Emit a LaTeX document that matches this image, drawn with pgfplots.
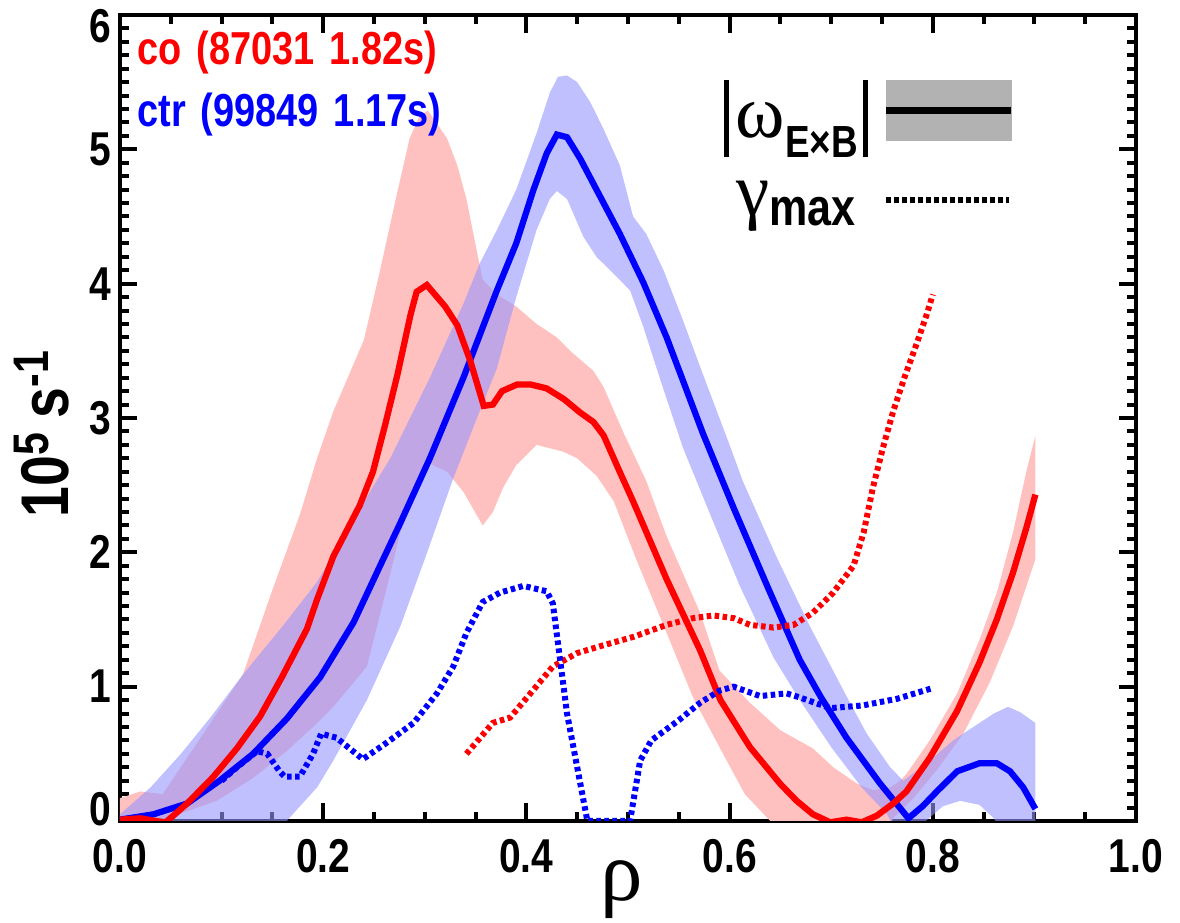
\documentclass[border=0pt]{standalone}
\usepackage{fontspec}
\setmainfont{Liberation Sans}
\newfontfamily\nar{Liberation Sans}[FakeStretch=0.82]
\newfontfamily\grk{Liberation Serif}
\usepackage{pgfplots}
\usepackage{pgfplotstable}
\pgfplotsset{compat=1.18}
\usepgfplotslibrary{fillbetween}

\definecolor{cored}{RGB}{255,0,0}
\definecolor{ctrblue}{RGB}{0,0,255}
\definecolor{coband}{RGB}{255,192,192}
\definecolor{ctrband}{RGB}{150,150,255}
\definecolor{legbox}{RGB}{178,178,178}

% co (87031 1.82s): |w_ExB| and its band
\pgfplotstableread{
x y
0.000 0.01
0.020 0.02
0.035 0.00
0.045 -0.01
0.066 0.13
0.092 0.33
0.115 0.54
0.138 0.78
0.160 1.08
0.184 1.43
0.194 1.65
0.210 1.97
0.236 2.35
0.249 2.60
0.261 2.95
0.273 3.32
0.286 3.77
0.292 3.94
0.302 3.99
0.320 3.83
0.332 3.69
0.345 3.42
0.358 3.09
0.367 3.10
0.376 3.20
0.391 3.25
0.404 3.25
0.420 3.22
0.437 3.14
0.453 3.04
0.466 2.97
0.476 2.87
0.493 2.58
0.505 2.38
0.538 1.80
0.571 1.27
0.591 0.90
0.620 0.55
0.650 0.275
0.666 0.15
0.682 0.05
0.699 -0.01
0.715 0.01
0.730 -0.01
0.745 0.04
0.761 0.13
0.774 0.22
0.797 0.47
0.824 0.82
0.846 1.18
0.863 1.50
0.879 1.85
0.892 2.18
0.901 2.43
}\coline

\pgfplotstableread{
x y
0.000 0.17
0.020 0.22
0.042 0.20
0.082 0.65
0.121 1.09
0.150 1.72
0.177 2.28
0.194 2.70
0.210 3.05
0.240 3.58
0.256 4.10
0.272 4.65
0.285 5.08
0.295 5.25
0.303 5.29
0.322 5.08
0.332 4.88
0.341 4.63
0.351 4.25
0.357 4.03
0.371 3.92
0.390 3.83
0.410 3.70
0.430 3.60
0.443 3.50
0.466 3.35
0.476 3.23
0.495 2.90
0.518 2.53
0.538 2.12
0.571 1.55
0.590 1.12
0.620 0.88
0.650 0.675
0.682 0.54
0.702 0.40
0.725 0.28
0.741 0.23
0.758 0.25
0.768 0.30
0.774 0.35
0.797 0.60
0.824 0.95
0.846 1.35
0.863 1.70
0.879 2.15
0.892 2.60
0.901 2.87
}\coup

\pgfplotstableread{
x y
0.000 -0.10
0.050 0.03
0.095 0.15
0.131 0.32
0.164 0.52
0.190 0.70
0.210 0.85
0.243 1.15
0.263 1.75
0.276 2.15
0.285 2.33
0.305 2.66
0.322 2.60
0.338 2.45
0.357 2.20
0.367 2.30
0.377 2.48
0.390 2.65
0.410 2.80
0.436 2.75
0.450 2.70
0.469 2.57
0.486 2.38
0.508 1.95
0.538 1.40
0.564 0.92
0.590 0.55
0.615 0.20
0.640 0.00
0.660 -0.10
0.750 -0.10
0.761 0.02
0.781 0.17
0.804 0.38
0.830 0.65
0.856 1.03
0.879 1.45
0.901 1.95
}\colo

% ctr (99849 1.17s): |w_ExB| and its band
\pgfplotstableread{
x y
0.000 0.01
0.033 0.05
0.066 0.13
0.098 0.30
0.131 0.50
0.164 0.76
0.197 1.07
0.230 1.48
0.256 1.90
0.276 2.22
0.305 2.70
0.338 3.30
0.371 3.95
0.390 4.30
0.407 4.70
0.420 4.97
0.430 5.11
0.440 5.09
0.453 4.93
0.469 4.70
0.492 4.37
0.515 4.01
0.538 3.60
0.554 3.28
0.574 2.88
0.604 2.33
0.637 1.75
0.669 1.20
0.690 0.92
0.715 0.62
0.748 0.28
0.776 0.02
0.790 0.11
0.804 0.22
0.824 0.37
0.846 0.43
0.863 0.43
0.876 0.37
0.889 0.25
0.901 0.09
}\ctrline

\pgfplotstableread{
x y
0.000 0.05
0.030 0.25
0.060 0.50
0.090 0.78
0.121 1.09
0.160 1.45
0.194 1.78
0.230 2.25
0.266 2.70
0.305 3.30
0.338 3.85
0.354 4.15
0.371 4.40
0.390 4.70
0.410 5.12
0.423 5.42
0.431 5.54
0.440 5.55
0.450 5.50
0.463 5.35
0.476 5.15
0.492 4.88
0.505 4.50
0.518 4.37
0.535 4.10
0.554 3.73
0.574 3.32
0.600 2.80
0.613 2.53
0.646 1.97
0.679 1.45
0.715 0.93
0.735 0.65
0.758 0.40
0.771 0.30
0.797 0.45
0.820 0.60
0.840 0.70
0.860 0.80
0.874 0.85
0.886 0.81
0.901 0.73
}\ctrup

\pgfplotstableread{
x y
0.000 -0.10
0.164 0.00
0.194 0.25
0.210 0.45
0.243 0.90
0.276 1.45
0.300 1.95
0.328 2.55
0.354 3.05
0.371 3.37
0.390 3.90
0.410 4.40
0.423 4.63
0.430 4.69
0.440 4.63
0.456 4.35
0.469 4.20
0.489 4.05
0.502 3.95
0.515 3.68
0.532 3.28
0.554 2.78
0.581 2.28
0.610 1.75
0.643 1.22
0.669 0.90
0.700 0.55
0.730 0.25
0.755 0.05
0.765 -0.10
0.790 -0.02
0.810 0.11
0.827 0.15
0.846 0.12
0.860 0.02
0.870 -0.10
0.901 -0.10
}\ctrlo

% gamma_max
\pgfplotstableread{
x y
0.341 0.50
0.367 0.73
0.384 0.77
0.404 0.95
0.426 1.15
0.450 1.25
0.472 1.30
0.505 1.37
0.538 1.46
0.564 1.51
0.584 1.53
0.604 1.51
0.620 1.46
0.643 1.44
0.663 1.46
0.682 1.55
0.702 1.70
0.722 1.90
0.732 2.15
0.741 2.48
0.751 2.78
0.761 3.05
0.772 3.30
0.784 3.55
0.794 3.77
0.800 3.92
}\cogam

\pgfplotstableread{
x y
0.100 0.30
0.115 0.40
0.135 0.52
0.145 0.50
0.157 0.37
0.162 0.33
0.177 0.33
0.190 0.50
0.198 0.65
0.213 0.62
0.239 0.46
0.262 0.58
0.289 0.73
0.312 0.95
0.328 1.15
0.341 1.40
0.357 1.63
0.374 1.70
0.397 1.75
0.420 1.71
0.426 1.62
0.440 0.80
0.460 0.00
0.502 0.00
0.512 0.45
0.523 0.60
0.550 0.75
0.571 0.88
0.590 0.97
0.604 1.00
0.630 0.93
0.656 0.95
0.669 0.92
0.699 0.84
0.731 0.86
0.765 0.91
0.800 0.99
}\ctrgam

\tikzset{gamline/.style={line width=2.4pt, dash pattern=on 1.8pt off 1.4pt}}

\begin{document}
\begin{tikzpicture}
\begin{axis}[
    scale only axis,
    width=406.4pt, height=322.4pt,
    xmin=0, xmax=1, ymin=0, ymax=6,
    xtick={0,0.2,0.4,0.6,0.8,1.0},
    ytick={0,1,2,3,4,5,6},
    yticklabels={\raisebox{4.8pt}[\height][0pt]{0},1,2,3,4,5,\raisebox{-4.4pt}[\height][0pt]{6}},
    minor x tick num=3,
    minor y tick num=9,
    tick align=inside,
    xtick pos=both, ytick pos=both,
    major tick length=7pt,
    minor tick length=3.5pt,
    tick style={black, line width=1.6pt},
    axis line style={line width=1.6pt},
    /pgf/number format/assume math mode=true,
    ticklabel style={font=\nar\bfseries\fontsize{19}{19}\selectfont},
    xticklabel style={yshift=-4pt, /pgf/number format/.cd, fixed, fixed zerofill, precision=1},
    xlabel={\grk ρ},
    xlabel style={font=\fontsize{34}{34}\selectfont, at={(axis description cs:0.494,-0.085)}, anchor=center},
    ylabel={\nar\bfseries 10\raisebox{8pt}{\fontsize{20}{20}\selectfont 5}\hspace{6pt}s\raisebox{8pt}{\fontsize{20}{20}\selectfont -1}},
    ylabel style={font=\fontsize{27}{27}\selectfont, at={(axis description cs:-0.077,0.48)}, anchor=center},
    legend plot pos=right,
    legend cell align=center,
    legend style={draw=none, fill=none, inner sep=0pt, at={(axis cs:0.881,5.52)}, anchor=north east,
        row sep=16pt, column sep=6pt, nodes={inner sep=0pt}},
]
\addplot[name path=coU, draw=none, forget plot] table {\coup};
\addplot[name path=coL, draw=none, forget plot] table {\colo};
\addplot[coband, forget plot] fill between[of=coU and coL];
\addplot[name path=ctrU, draw=none, forget plot] table {\ctrup};
\addplot[name path=ctrL, draw=none, forget plot] table {\ctrlo};
\addplot[ctrband, fill opacity=0.6, forget plot] fill between[of=ctrU and ctrL];

\addplot[ctrblue, line width=2.5pt, forget plot] table {\ctrline};
\addplot[cored, line width=2.5pt, forget plot] table {\coline};
\addplot[cored, gamline, forget plot] table {\cogam};
\addplot[ctrblue, gamline, forget plot] table {\ctrgam};

\addlegendimage{legend image code/.code={
    \fill[legbox] (0pt,-12pt) rectangle (50pt,12pt);
    \draw[black, line width=2.6pt] (0pt,0pt) -- (50pt,0pt);}}
\addlegendentry{\rule[-8pt]{2pt}{31pt}\hspace{2.8pt}{\grk\fontsize{30}{30}\selectfont ω}\raisebox{-8pt}{\nar\bfseries\fontsize{18}{18}\selectfont E×B}\hspace{2pt}\rule[-8pt]{2pt}{31pt}}
\addlegendimage{legend image code/.code={
    \draw[black, gamline] (0pt,0pt) -- (49pt,0pt);}}
\addlegendentry{{\grk\fontsize{30}{30}\selectfont γ}\raisebox{-4pt}{\nar\bfseries\fontsize{21}{21}\selectfont max}}

\node[anchor=base west, inner sep=0pt, text=cored, font=\nar\bfseries\fontsize{18.5}{18.5}\selectfont]
    at (axis cs:0.0167,5.63) {co\hspace{6pt}(87031\hspace{6pt}1.82s)};
\node[anchor=base west, inner sep=0pt, text=ctrblue, font=\nar\bfseries\fontsize{18.5}{18.5}\selectfont]
    at (axis cs:0.0167,5.17) {ctr\hspace{6pt}(99849\hspace{6pt}1.17s)};
\end{axis}
\pgfresetboundingbox
\path[use as bounding box] (-48pt,-40.8pt) rectangle (424pt,328.4pt);
\end{tikzpicture}
\end{document}
